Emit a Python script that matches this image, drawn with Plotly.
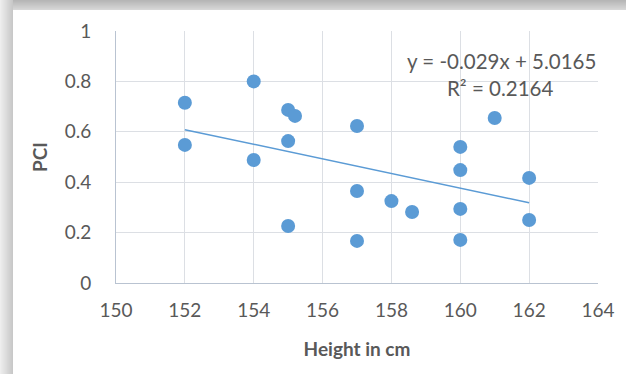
import plotly.graph_objects as go

height_cm = [152, 152, 154, 154, 155, 155.2, 155, 155, 157, 157, 157, 158, 158.6, 160, 160, 160, 160, 161, 162, 162]
pci = [0.715, 0.548, 0.80, 0.488, 0.687, 0.663, 0.563, 0.226, 0.623, 0.365, 0.167, 0.325, 0.282, 0.54, 0.448, 0.294, 0.171, 0.655, 0.417, 0.25]

slope = -0.029
intercept = 5.0165
r_squared = 0.2164

x_ticks = [150, 152, 154, 156, 158, 160, 162, 164]
y_ticks = [0, 0.2, 0.4, 0.6, 0.8, 1]
y_tick_text = ["0", "0.2", "0.4", "0.6", "0.8", "1"]

W, H = 626, 374
ML, MR, MT, MB = 116, 28, 31, 91
PW, PH = W - ML - MR, H - MT - MB

def px_x(p):
    return (p - ML) / PW

def px_y(p):
    return (H - MB - p) / PH

blue = "#5b9bd5"
txt = "#595959"
font = "Lato, 'Open Sans', sans-serif"
fs = 19

trend_x = [min(height_cm), max(height_cm)]
trend_y = [slope * v + intercept for v in trend_x]

fig = go.Figure()
fig.add_trace(go.Scatter(x=trend_x, y=trend_y, mode="lines",
                         line=dict(color=blue, width=1.5), hoverinfo="skip"))
fig.add_trace(go.Scatter(x=height_cm, y=pci, mode="markers",
                         marker=dict(color=blue, size=14, line=dict(width=0))))

shapes = []
for i in range(13):
    g = int(238 - (238 - 200) * i / 12)
    shapes.append(dict(type="rect", xref="paper", yref="paper", layer="below",
                       x0=px_x(i), x1=px_x(i + 1), y0=px_y(H), y1=px_y(0),
                       fillcolor=f"rgb({g},{g},{g})", line=dict(width=0)))
for j in range(10):
    g = int(182 + (215 - 182) * j / 9)
    shapes.append(dict(type="rect", xref="paper", yref="paper", layer="below",
                       x0=px_x(13), x1=px_x(W), y0=px_y(j + 1), y1=px_y(j),
                       fillcolor=f"rgb({g},{g},{g})", line=dict(width=0)))

fig.update_layout(
    width=W, height=H,
    margin=dict(l=ML, r=MR, t=MT, b=MB),
    paper_bgcolor="white", plot_bgcolor="white",
    showlegend=False,
    shapes=shapes,
    font=dict(family=font, color=txt, size=fs),
    xaxis=dict(range=[150, 164], tickvals=x_ticks, showgrid=True, gridcolor="#dcdfe4",
               gridwidth=1, zeroline=False, showline=True, linecolor="#b9c3d1",
               linewidth=1, ticks="", ticklabelstandoff=10,
               tickfont=dict(size=fs, color=txt, family=font),
               title=dict(text="<b>Height in cm</b>", standoff=22,
                          font=dict(size=fs, color=txt, family=font))),
    yaxis=dict(range=[0, 1], tickvals=y_ticks, ticktext=y_tick_text, showgrid=True,
               gridcolor="#dcdfe4", gridwidth=1, zeroline=False, showline=True,
               linecolor="#b9c3d1", linewidth=1, ticks="", ticklabelstandoff=20,
               tickfont=dict(size=fs, color=txt, family=font),
               title=dict(text="<b>PCI</b>", standoff=12,
                          font=dict(size=fs, color=txt, family=font))),
    annotations=[
        dict(x=px_x(501), y=px_y(61), xref="paper", yref="paper", showarrow=False,
             text=f"y = {slope}x + {intercept}", font=dict(size=20.5, color=txt, family=font),
             xanchor="center", yanchor="middle"),
        dict(x=px_x(500), y=px_y(88), xref="paper", yref="paper", showarrow=False,
             text=f"R² = {r_squared}", font=dict(size=20.5, color=txt, family=font),
             xanchor="center", yanchor="middle"),
    ],
)

fig.write_html("out.html", config={"displayModeBar": False},
               post_script="document.body.style.margin='0';document.body.style.overflow='hidden';")
